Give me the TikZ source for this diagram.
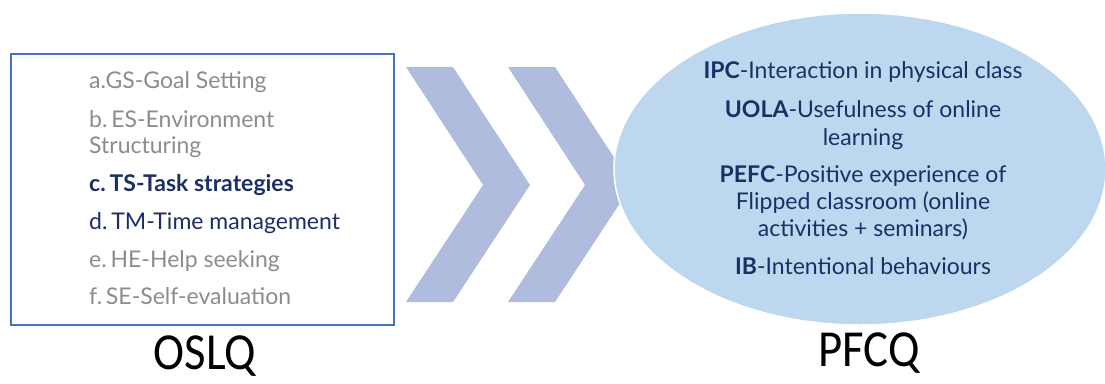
\documentclass[tikz,border=0pt]{standalone}
\usepackage{fontspec}
\usepackage{graphicx}
\setmainfont{Lato}
\newfontfamily\labelfont{Carlito}
\definecolor{navy}{HTML}{1B2F66}
\definecolor{mutedgray}{HTML}{8C8C8C}
\definecolor{frameblue}{HTML}{4472C4}
\definecolor{chevronblue}{HTML}{B0BCDE}
\definecolor{ovalblue}{HTML}{BDD7EE}
\newcommand{\narrowcap}[1]{\scalebox{0.9}[1]{#1}}
\tikzset{
  item/.style={anchor=base west, inner sep=0pt, font=\fontsize{23}{27}\selectfont},
  faded/.style={item, text=mutedgray},
  strong/.style={item, text=navy},
  ovalline/.style={anchor=base, inner sep=0pt, text=navy, font=\fontsize{23}{27}\selectfont},
  chevron/.style={fill=chevronblue, draw=none},
  caption/.style={inner sep=0pt, anchor=base, font=\labelfont\fontsize{52}{55}\selectfont}
}
\begin{document}
\begin{tikzpicture}[x=1pt,y=-1pt]
  \useasboundingbox (0,0) rectangle (1105,383);

  % questionnaire frame
  \node[draw=frameblue, line width=1.5pt, minimum width=383pt, minimum height=271pt,
        inner sep=0pt, anchor=north west] (frame) at (10,53) {};

  \node[faded]  (ga) at (89,88)  {a.GS-Goal Setting};
  \node[faded]  (gb) at (89,127) {b.\,ES-Environment};
  \node[faded]  (gb2) at (89,153) {Structuring};
  \node[strong, font=\bfseries\fontsize{23}{27}\selectfont] (gc) at (89,191) {c.\,TS-Task strategies};
  \node[strong] (gd) at (89,229) {d.\,TM-Time management};
  \node[faded]  (ge) at (89,267) {e.\,HE-Help seeking};
  \node[faded]  (gf) at (89,304) {f.\,SE-Self-evaluation};

  % two chevrons
  \fill[chevron] (406,67) -- (453,67) -- (530,185) -- (453,302) -- (406,302) -- (483,185) -- cycle;
  \fill[chevron] (508,67) -- (555,67) -- (632,185) -- (555,302) -- (508,302) -- (585,185) -- cycle;

  % outcome oval
  \draw[fill=ovalblue, draw=white, line width=1.5pt] (860,169) ellipse [x radius=246, y radius=156];
  \coordinate (oval) at (860,169);

  \node[ovalline] (p1) at (863,78)  {\textbf{IPC}-Interaction in physical class};
  \node[ovalline] (p2) at (863,117) {\textbf{UOLA}-Usefulness of online};
  \node[ovalline] (p2b) at (863,145) {learning};
  \node[ovalline] (p3) at (863,182) {\textbf{PEFC}-Positive experience of};
  \node[ovalline] (p3b) at (863,209) {Flipped classroom (online};
  \node[ovalline] (p3c) at (863,236) {activities + seminars)};
  \node[ovalline] (p4) at (863,274) {\textbf{IB}-Intentional behaviours};

  % captions
  \node[caption] (oslq) at (205,369) {\narrowcap{OSLQ}};
  \node[caption] (pfcq) at (869,366) {\narrowcap{PFCQ}};
\end{tikzpicture}
\end{document}
